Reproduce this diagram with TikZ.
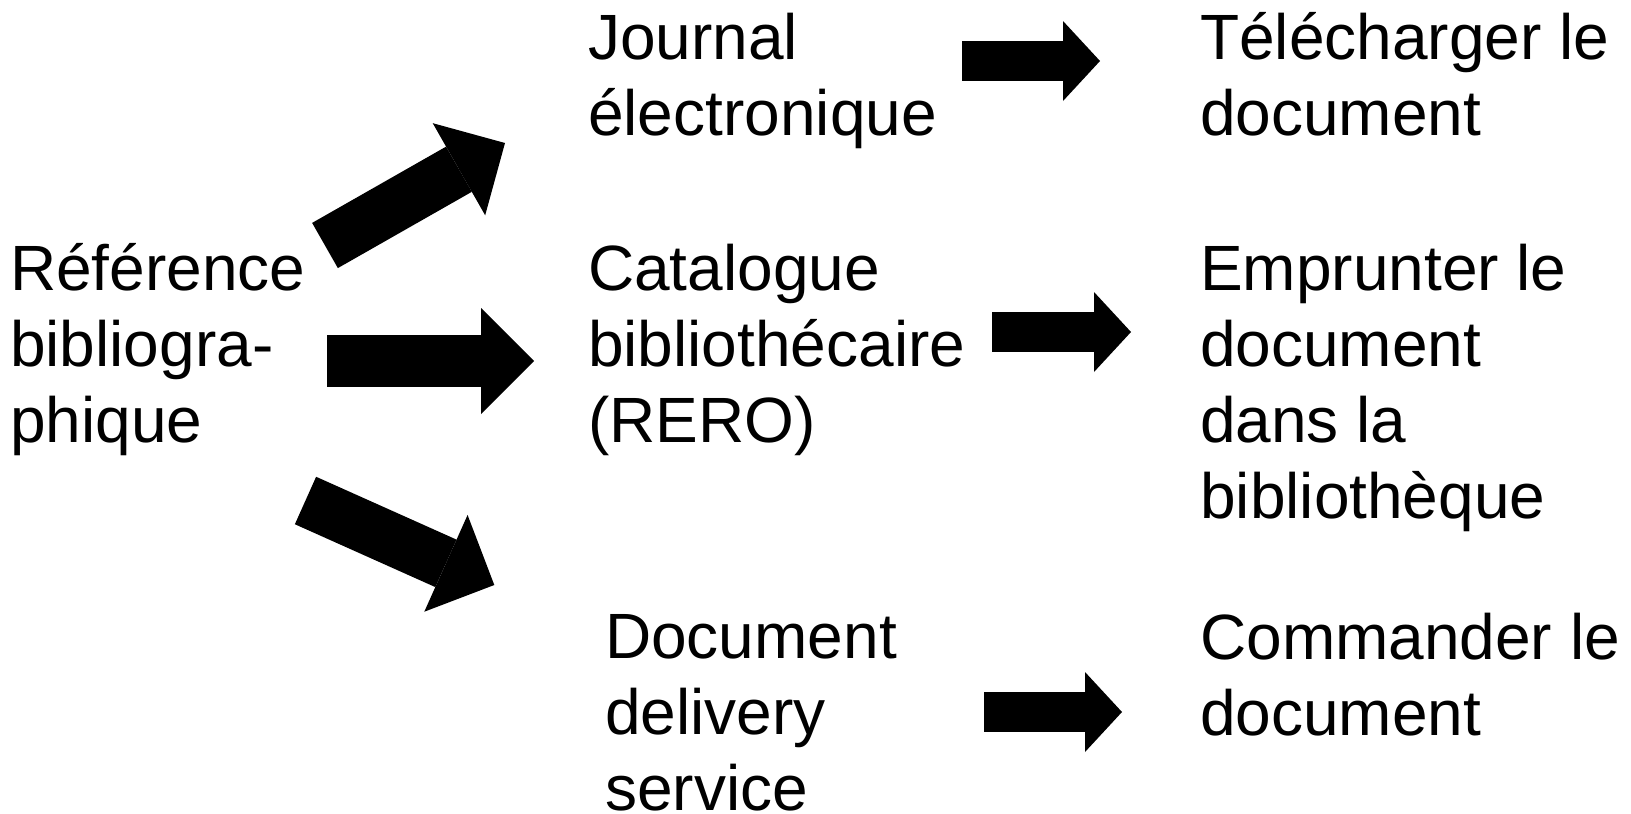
\documentclass[tikz,border=0pt]{standalone}
\usepackage{fontspec}
\setmainfont{Liberation Sans}
\usetikzlibrary{positioning, arrows.meta}

\begin{document}
\begin{tikzpicture}[x=1pt, y=-1pt,
        txt/.style={anchor=base west, inner sep=0pt, align=left,
            font=\fontsize{64}{76}\selectfont},
        bigarrow/.style={line width=52pt,
            -{Triangle[length=53pt, width=106pt, line width=0pt]}},
        smallarrow/.style={line width=40pt,
            -{Triangle[length=37pt, width=80pt, line width=0pt]}}]
        \useasboundingbox (0,0) rectangle (1631,814);

        % base west = baseline of the last line
        \node[txt] (Ref) at (10,442) {Référence\\bibliogra-\\phique};
        \node[txt] (JE) at (588,135) {Journal\\électronique};
        \node[txt] (Cat) at (588,442) {Catalogue\\bibliothécaire\\(RERO)};
        \node[txt] (DDS) at (605,810) {Document\\delivery\\service};
        \node[txt] (Tel) at (1200,135) {Télécharger le\\document};
        \node[txt] (Emp) at (1200,518) {Emprunter le\\document\\dans la\\bibliothèque};
        \node[txt] (Com) at (1200,735) {Commander le\\document};

        \coordinate (a1s) at (325,245.5);
        \coordinate (a1e) at (505,143);
        \coordinate (a2s) at (327,361);
        \coordinate (a2e) at (534,361);
        \coordinate (a3s) at (305.5,500.5);
        \coordinate (a3e) at (494.3,585);
        \coordinate (b1s) at (962,61);
        \coordinate (b1e) at (1100,61);
        \coordinate (b2s) at (992,332);
        \coordinate (b2e) at (1131,332);
        \coordinate (b3s) at (984,712);
        \coordinate (b3e) at (1122,712);

        \draw[bigarrow] (a1s) -- (a1e);
        \draw[bigarrow] (a2s) -- (a2e);
        \draw[bigarrow] (a3s) -- (a3e);
        \draw[smallarrow] (b1s) -- (b1e);
        \draw[smallarrow] (b2s) -- (b2e);
        \draw[smallarrow] (b3s) -- (b3e);
    \end{tikzpicture}
\end{document}
